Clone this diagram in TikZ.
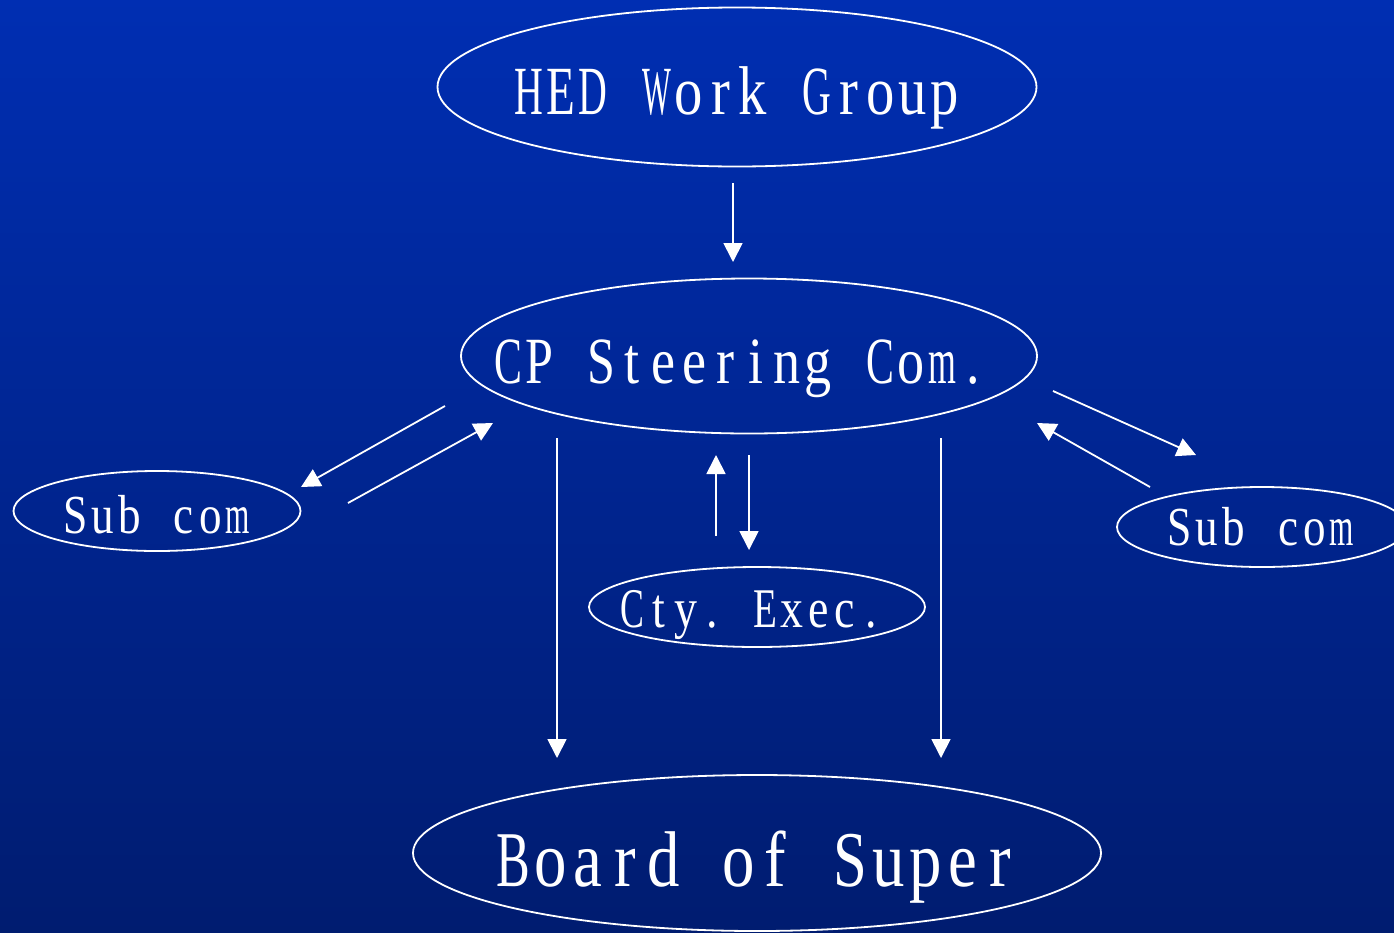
\documentclass[tikz,border=0pt]{standalone}
\usepackage{fontspec}
\setmainfont{Liberation Serif}[FakeStretch=0.82]
\usetikzlibrary{shapes.geometric,arrows.meta}
\ExplSyntaxOn
\box_new:N \l_mono_box
\dim_new:N \l_mono_dim
\NewDocumentCommand\monotxt{mm}{
  \dim_set:Nn \l_mono_dim { \fp_to_dim:n { 0.9 * (#1) } }
  \str_map_inline:nn {#2} {
    \hbox_set:Nn \l_mono_box {##1}
    \dim_compare:nNnT { \box_wd:N \l_mono_box } > { \l_mono_dim }
      {
        \box_scale:Nnn \l_mono_box
          { \fp_eval:n { \dim_to_fp:n { \l_mono_dim } / \dim_to_fp:n { \box_wd:N \l_mono_box } } }
          { 1 }
      }
    \makebox[#1][c]{\box_use:N \l_mono_box}
  }
}
\ExplSyntaxOff
\definecolor{bgtop}{RGB}{0,46,178}
\definecolor{bgbot}{RGB}{0,28,112}
\tikzset{
  ell/.style={draw=white,line width=1.8pt,ellipse,inner sep=0pt},
  lbl/.style={text=white,anchor=base,inner sep=0pt},
  arr/.style={draw=white,line width=1.8pt,-{Triangle[length=19pt,width=19pt]}},
}
\begin{document}
\begin{tikzpicture}[x=1pt,y=-1pt]
\useasboundingbox (0,0) rectangle (1394,932);
\shade[top color=bgtop,bottom color=bgbot] (0,0) rectangle (1394,932);
% ellipses
\node[ell,minimum width=599pt,minimum height=159pt] (hed) at (737,87) {};
\node[ell,minimum width=576pt,minimum height=155pt] (cp) at (749,356) {};
\node[ell,minimum width=688pt,minimum height=156pt] (board) at (757,853) {};
\node[ell,minimum width=287pt,minimum height=80pt] (subl) at (157,511) {};
\node[ell,minimum width=290pt,minimum height=80pt] (subr) at (1262,527) {};
\node[ell,minimum width=336pt,minimum height=80pt] (cty) at (757,607) {};
% labels
\node[lbl,font=\fontsize{69}{69}\selectfont] (hedt) at (737,114) {\monotxt{32pt}{HED Work Group}};
\node[lbl,font=\fontsize{66}{66}\selectfont] (cpt) at (741,383) {\monotxt{31pt}{CP Steering Com.}};
\node[lbl,font=\fontsize{79}{79}\selectfont] (boardt) at (757,886) {\monotxt{37.5pt}{Board of Super}};
\node[lbl,font=\fontsize{55}{55}\selectfont] (sublt) at (157,533) {\monotxt{27pt}{Sub com}};
\node[lbl,font=\fontsize{55}{55}\selectfont] (subrt) at (1261,545) {\monotxt{27pt}{Sub com}};
\node[lbl,font=\fontsize{56}{56}\selectfont] (ctyt) at (752,627) {\monotxt{26.5pt}{Cty. Exec.}};
% arrow end points
\coordinate (a1s) at (733,183); \coordinate (a1e) at (733,262);
\coordinate (l1s) at (445,406); \coordinate (l1e) at (301,487);
\coordinate (l2s) at (348,503); \coordinate (l2e) at (493,423);
\coordinate (r1s) at (1053,391); \coordinate (r1e) at (1196,455);
\coordinate (r2s) at (1150,487); \coordinate (r2e) at (1037,423);
\coordinate (m1s) at (716,536); \coordinate (m1e) at (716,455);
\coordinate (m2s) at (749,455); \coordinate (m2e) at (749,550);
\coordinate (d1s) at (557,438); \coordinate (d1e) at (557,758);
\coordinate (d2s) at (941,438); \coordinate (d2e) at (941,758);
% arrows
\draw[arr] (a1s) -- (a1e);
\draw[arr] (l1s) -- (l1e);
\draw[arr] (l2s) -- (l2e);
\draw[arr] (r1s) -- (r1e);
\draw[arr] (r2s) -- (r2e);
\draw[arr] (m1s) -- (m1e);
\draw[arr] (m2s) -- (m2e);
\draw[arr] (d1s) -- (d1e);
\draw[arr] (d2s) -- (d2e);
\end{tikzpicture}
\end{document}
